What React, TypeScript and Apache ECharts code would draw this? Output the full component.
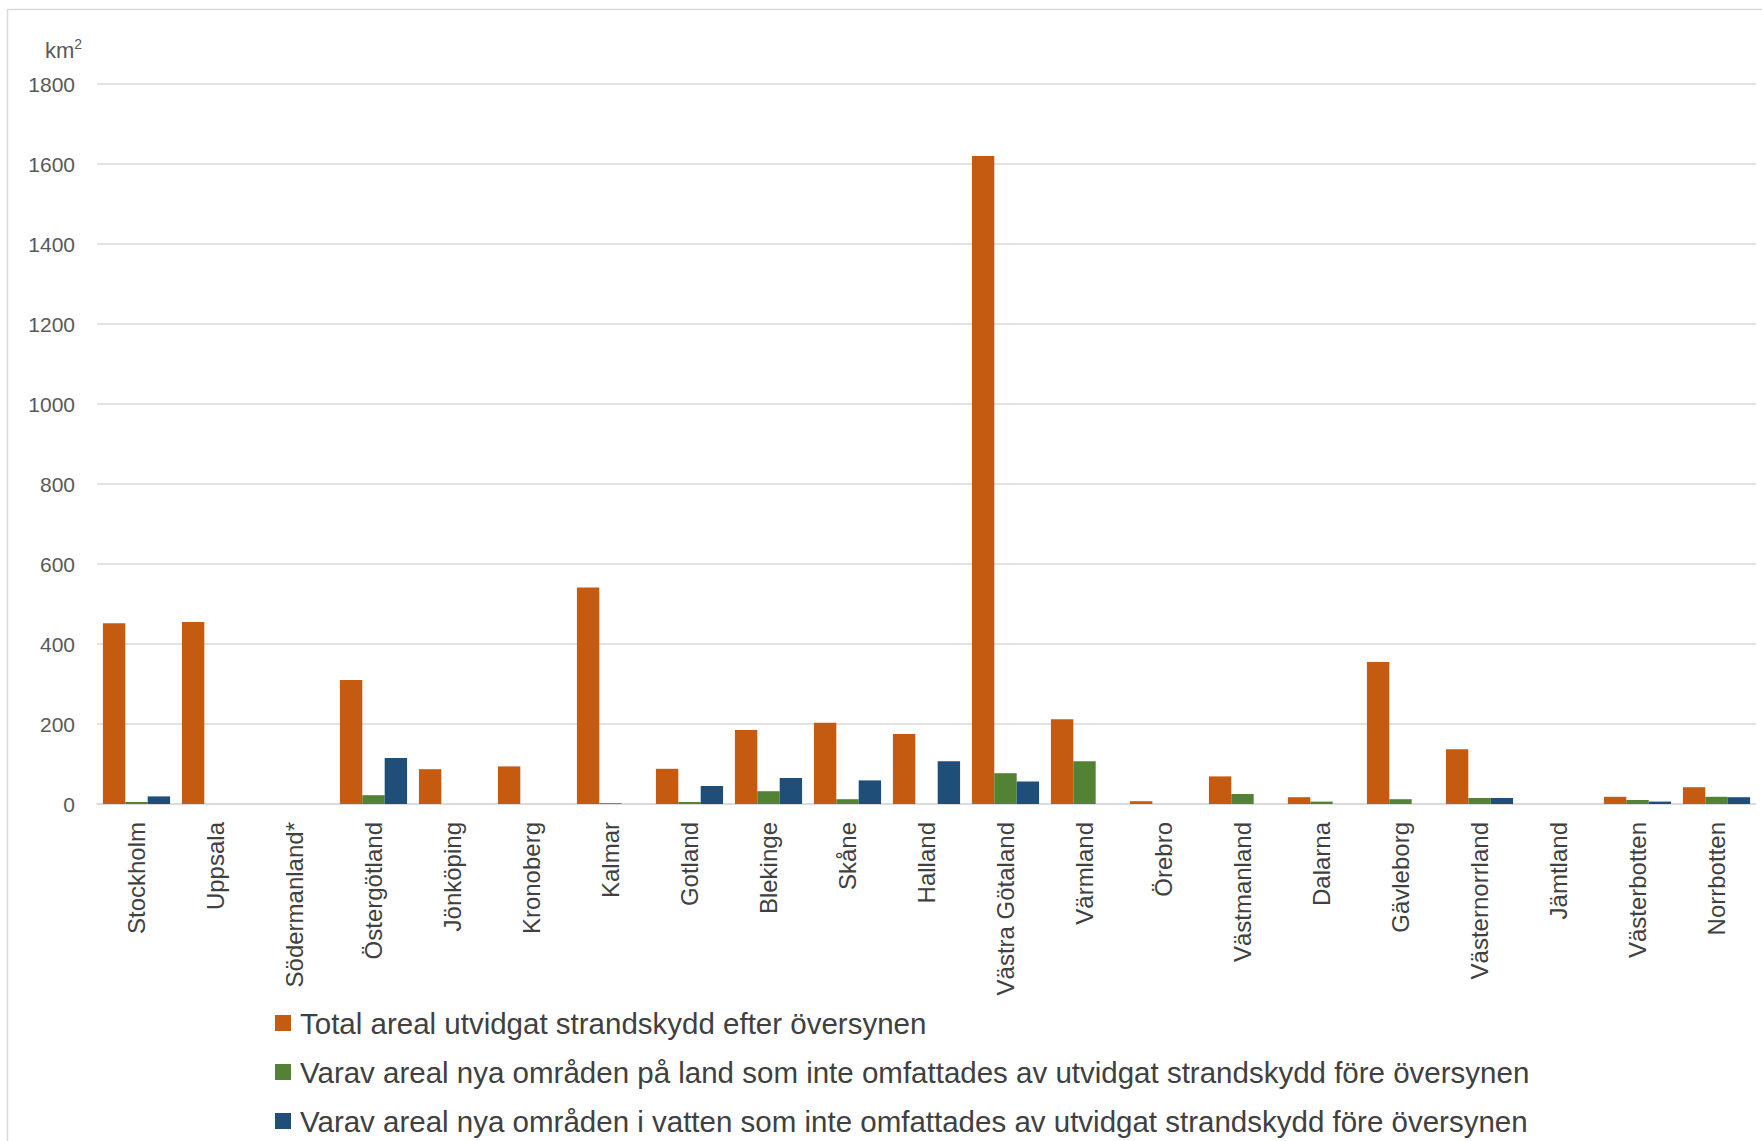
import React, { useEffect, useRef } from "react";
import * as echarts from "echarts";

const categories = [
  "Stockholm", "Uppsala", "Södermanland*", "Östergötland", "Jönköping", "Kronoberg",
  "Kalmar", "Gotland", "Blekinge", "Skåne", "Halland", "Västra Götaland", "Värmland",
  "Örebro", "Västmanland", "Dalarna", "Gävleborg", "Västernorrland", "Jämtland",
  "Västerbotten", "Norrbotten",
];
const seriesNames = [
  "Total areal utvidgat strandskydd efter översynen",
  "Varav areal nya områden på land som inte omfattades av utvidgat strandskydd före översynen",
  "Varav areal nya områden i vatten som inte omfattades av utvidgat strandskydd före översynen",
];
const totalArea = [452, 455, null, 310, 87, 94, 541, 88, 185, 203, 175, 1620, 212, 7, 69, 17, 355, 137, null, 18, 42];
const landArea = [5, null, null, 22, null, null, 2, 5, 32, 12, null, 77, 107, null, 25, 6, 12, 15, null, 10, 18];
const waterArea = [19, null, null, 115, null, null, null, 45, 65, 59, 107, 56, null, null, null, null, null, 15, null, 6, 17];
const yMin = 0;
const yMax = 1800;
const yInterval = 200;
const colors = ["#C55A11", "#548235", "#1F4E79"];

export default function App() {
  const ref = useRef<HTMLDivElement>(null);
  useEffect(() => {
    if (!ref.current) return;
    const chart = echarts.init(ref.current, null, { renderer: "svg" });
    const font = "'Liberation Sans', Arial, sans-serif";
    const data = [totalArea, landArea, waterArea];
    chart.setOption({
      animation: false,
      backgroundColor: "#ffffff",
      textStyle: { fontFamily: font },
      grid: { left: 97, right: 6, top: 84, bottom: 337, containLabel: false },
      graphic: [
        {
          type: "rect",
          shape: { x: 7.5, y: 9.5, width: 1800, height: 1200 },
          style: { fill: "none", stroke: "#d9d9d9", lineWidth: 1.5 },
          silent: true,
        },
        {
          type: "text",
          x: 45,
          y: 37,
          style: {
            text: "{a|km}{b|2}",
            rich: {
              a: { fontSize: 22, fill: "#595959", fontFamily: font, verticalAlign: "bottom", lineHeight: 24 },
              b: { fontSize: 14, fill: "#595959", fontFamily: font, verticalAlign: "top", lineHeight: 24, padding: [0, 0, 8, 0] },
            },
          },
        },
      ],
      legend: {
        orient: "vertical",
        left: 275,
        top: 1008,
        padding: 0,
        itemWidth: 16,
        itemHeight: 16,
        itemGap: 19,
        icon: "rect",
        textStyle: { fontSize: 29.5, color: "#404040", fontFamily: font, padding: [0, 0, 0, 4], lineHeight: 30 },
        data: seriesNames,
      },
      xAxis: {
        type: "category",
        data: categories,
        axisLine: { show: true, lineStyle: { color: "#d9d9d9", width: 1.5 } },
        axisTick: { show: false },
        axisLabel: { rotate: 90, fontSize: 24, color: "#404040", margin: 18, interval: 0, fontFamily: font },
      },
      yAxis: {
        type: "value",
        min: yMin,
        max: yMax,
        interval: yInterval,
        axisLine: { show: false },
        axisTick: { show: false },
        splitLine: { lineStyle: { color: "#d9d9d9", width: 1.5 } },
        axisLabel: {
          fontSize: 21,
          color: "#595959",
          margin: 22,
          fontFamily: font,
          formatter: (v: number) => String(v),
        },
      },
      series: seriesNames.map((name, i) => ({
        name,
        type: "bar",
        data: data[i],
        itemStyle: { color: colors[i] },
        barGap: "0%",
        barCategoryGap: "15%",
      })),
    });
    return () => chart.dispose();
  }, []);
  return (
    <div
      ref={ref}
      style={{ position: "fixed", left: 0, top: 0, width: 1762, height: 1141, background: "#fff" }}
    />
  );
}
